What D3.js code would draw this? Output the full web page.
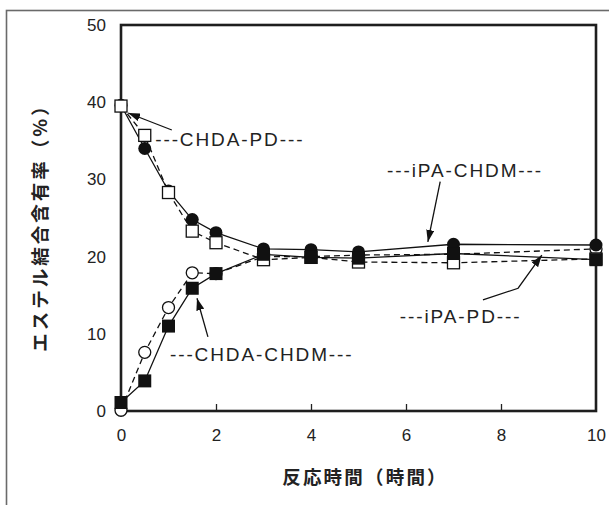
<!DOCTYPE html>
<html>
<head>
<meta charset="utf-8">
<script src="https://cdn.jsdelivr.net/npm/d3@7/dist/d3.min.js"></script>
<style>
  html, body { margin: 0; padding: 0; background: #fff; }
  svg { display: block; }
</style>
</head>
<body>
<svg id="chart" width="609" height="505"></svg>
<script>
// ---- data ----
const times    = [0, 0.5, 1, 1.5, 2, 3, 4, 5, 7, 10];
const chdaPD   = [39.5, 35.7, 28.3, 23.3, 21.8, 19.6, 19.9, 19.3, 19.2, 19.7]; // open squares, dashed
const ipaCHDM  = [39.6, 34.0, 28.5, 24.8, 23.1, 21.0, 20.9, 20.6, 21.6, 21.5]; // filled circles, solid
const chdaCHDM = [1.1, 3.9, 11.0, 15.9, 17.8, 20.3, 19.9, 19.8, 20.4, 19.6];   // filled squares, solid
const ipaPD    = [0.1, 7.6, 13.4, 17.9, 17.8, 20.0, 20.0, 20.2, 20.3, 21.0];   // open circles, dashed
const xTicks = [0, 2, 4, 6, 8, 10];
const yTicks = [0, 10, 20, 30, 40, 50];
const xTitle = "反応時間（時間）";
const yTitle = "エステル結合含有率（%）";
const labels = ["---CHDA-PD---", "---iPA-CHDM---", "---iPA-PD---", "---CHDA-CHDM---"];

// ---- layout ----
const svg = d3.select("#chart");
const x = d3.scaleLinear().domain([0, 10]).range([121, 596]);
const y = d3.scaleLinear().domain([0, 50]).range([411, 25]);
const LATIN = "'Liberation Sans', Arial, sans-serif";
const CJK = "'Noto Sans CJK JP', 'Noto Sans CJK SC', sans-serif";

// outer frame
svg.append("rect").attr("x", 6.5).attr("y", 10.5).attr("width", 700).attr("height", 600)
  .attr("fill", "none").attr("stroke", "#6a6a6a").attr("stroke-width", 1.6);

// arrow marker
svg.append("defs").append("marker")
  .attr("id", "arr").attr("markerUnits", "userSpaceOnUse")
  .attr("viewBox", "0 0 12 8").attr("refX", 12).attr("refY", 4)
  .attr("markerWidth", 12).attr("markerHeight", 8).attr("orient", "auto")
  .append("path").attr("d", "M0,0 L12,4 L0,8 Z").attr("fill", "#111");

// axes
const gx = svg.append("g").attr("transform", `translate(0,${y(0)})`)
  .call(d3.axisBottom(x).tickValues(xTicks).tickSize(-7).tickPadding(18).tickFormat(d3.format("d")));
gx.select(".domain").remove();
gx.selectAll(".tick line").attr("stroke", "#222").attr("stroke-width", 1.3)
  .filter(d => d === 0 || d === 10).remove();
gx.selectAll(".tick text").attr("font-family", LATIN).attr("font-size", 17).attr("fill", "#222");

const gy = svg.append("g").attr("transform", `translate(${x(0)},0)`)
  .call(d3.axisLeft(y).tickValues(yTicks).tickSize(0).tickPadding(15).tickFormat(d3.format("d")));
gy.select(".domain").remove();
gy.selectAll(".tick text").attr("font-family", LATIN).attr("font-size", 17).attr("fill", "#222");

// plot frame
svg.append("rect").attr("x", x(0)).attr("y", y(50)).attr("width", x(10) - x(0)).attr("height", y(0) - y(50))
  .attr("fill", "none").attr("stroke", "#1e1e1e").attr("stroke-width", 2.6);

// axis titles
svg.append("text").attr("x", 365).attr("y", 484).attr("text-anchor", "middle")
  .attr("font-family", CJK).attr("font-weight", "bold").attr("font-size", 18.5)
  .attr("letter-spacing", 2.2).attr("fill", "#222").text(xTitle);
svg.append("text").attr("transform", "translate(47,223) rotate(-90)").attr("text-anchor", "middle")
  .attr("font-family", CJK).attr("font-weight", "bold").attr("font-size", 18.5)
  .attr("letter-spacing", 3).attr("fill", "#222").text(yTitle);

// lines
const series = [
  { vals: ipaPD,    dash: "6,4" },
  { vals: ipaCHDM,  dash: null },
  { vals: chdaPD,   dash: "6,4" },
  { vals: chdaCHDM, dash: null }
];
const line = d3.line().x(d => x(d[0])).y(d => y(d[1]));
series.forEach(s => {
  svg.append("path").datum(times.map((t, i) => [t, s.vals[i]]))
    .attr("d", line).attr("fill", "none").attr("stroke", "#111").attr("stroke-width", 1.3)
    .attr("stroke-dasharray", s.dash);
});

// markers
const pts = v => times.map((t, i) => [t, v[i]]);
svg.append("g").selectAll("circle").data(pts(ipaPD)).join("circle")
  .attr("cx", d => x(d[0])).attr("cy", d => y(d[1])).attr("r", 6)
  .attr("fill", "#fff").attr("stroke", "#111").attr("stroke-width", 1.3);
svg.append("g").selectAll("circle").data(pts(ipaCHDM)).join("circle")
  .attr("cx", d => x(d[0])).attr("cy", d => y(d[1])).attr("r", 6.5)
  .attr("fill", "#111");
svg.append("g").selectAll("rect").data(pts(chdaPD)).join("rect")
  .attr("x", d => x(d[0]) - 6).attr("y", d => y(d[1]) - 6).attr("width", 12).attr("height", 12)
  .attr("fill", "#fff").attr("stroke", "#111").attr("stroke-width", 1.3);
svg.append("g").selectAll("rect").data(pts(chdaCHDM)).join("rect")
  .attr("x", d => x(d[0]) - 6.5).attr("y", d => y(d[1]) - 6.5).attr("width", 13).attr("height", 13)
  .attr("fill", "#111");

// annotations (positions in data units)
const notes = [
  { text: labels[0], at: [0.72, 34.3], arrow: [[1.07, 36.4], [0.15, 38.6]] },
  { text: labels[1], at: [5.6, 30.3],  arrow: [[6.72, 29.7], [6.46, 21.9]] },
  { text: labels[2], at: [5.87, 11.4], arrow: [[7.62, 14.4], [8.36, 15.9], [8.86, 20.2]] },
  { text: labels[3], at: [1.03, 6.5],  arrow: [[1.83, 9.6], [1.6, 14.6]] }
];
notes.forEach(n => {
  svg.append("text").attr("x", x(n.at[0])).attr("y", y(n.at[1]))
    .attr("font-family", LATIN).attr("font-size", 19).attr("letter-spacing", 1.9)
    .attr("fill", "#222").text(n.text);
  svg.append("path").datum(n.arrow).attr("d", line).attr("fill", "none")
    .attr("stroke", "#111").attr("stroke-width", 1.3).attr("marker-end", "url(#arr)");
});
</script>
</body>
</html>
